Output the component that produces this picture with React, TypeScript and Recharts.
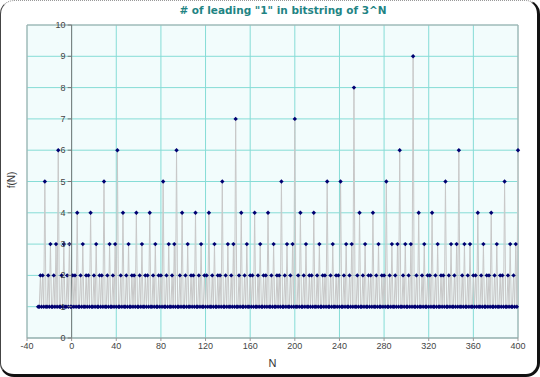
import React from 'react';
import { LineChart, Line, XAxis, YAxis, CartesianGrid, ReferenceLine } from 'recharts';

// f(N) = number of leading "1" bits of 3^N, N = -30 .. 400
const N_START = -30;

const F_NEG = [
  1, 1, 2, 1, 2, 1,
  5, 1, 1, 2, 1, 3, 1, 1, 2, 1, 3, 1,
  6, 1, 1, 2, 1, 3, 1, 1, 2, 1, 3, 1,
];

const F_000_095 = [
  1, 2, 1, 2, 1, 4, 1, 1, 2, 1, 3, 1,
  1, 2, 1, 2, 1, 4, 1, 1, 2, 1, 3, 1,
  1, 2, 1, 2, 1, 5, 1, 1, 2, 1, 3, 1,
  1, 2, 1, 3, 1, 6, 1, 1, 2, 1, 4, 1,
  1, 2, 1, 3, 1, 1, 2, 1, 2, 1, 4, 1,
  1, 2, 1, 3, 1, 1, 2, 1, 2, 1, 4, 1,
  1, 2, 1, 3, 1, 1, 2, 1, 2, 1, 5, 1,
  1, 2, 1, 3, 1, 1, 2, 1, 3, 1, 6, 1,
];

const F_096_191 = [
  1, 2, 1, 4, 1, 1, 2, 1, 3, 1, 1, 2,
  1, 2, 1, 4, 1, 1, 2, 1, 3, 1, 1, 2,
  1, 2, 1, 4, 1, 1, 2, 1, 3, 1, 1, 2,
  1, 2, 1, 5, 1, 1, 2, 1, 3, 1, 1, 2,
  1, 3, 1, 7, 1, 1, 2, 1, 4, 1, 1, 2,
  1, 3, 1, 1, 2, 1, 2, 1, 4, 1, 1, 2,
  1, 3, 1, 1, 2, 1, 2, 1, 4, 1, 1, 2,
  1, 3, 1, 1, 2, 1, 2, 1, 5, 1, 1, 2,
];

const F_192_287 = [
  1, 3, 1, 1, 2, 1, 3, 1, 7, 1, 1, 2,
  1, 4, 1, 1, 2, 1, 3, 1, 1, 2, 1, 2,
  1, 4, 1, 1, 2, 1, 3, 1, 1, 2, 1, 2,
  1, 5, 1, 1, 2, 1, 3, 1, 1, 2, 1, 2,
  1, 5, 1, 1, 2, 1, 3, 1, 1, 2, 1, 3,
  1, 8, 1, 1, 2, 1, 4, 1, 1, 2, 1, 3,
  1, 1, 2, 1, 2, 1, 4, 1, 1, 2, 1, 3,
  1, 1, 2, 1, 2, 1, 5, 1, 1, 2, 1, 3,
];

const F_288_400 = [
  1, 1, 2, 1, 3, 1, 6, 1, 1, 2, 1, 3,
  1, 1, 2, 1, 3, 1, 9, 1, 1, 2, 1, 4,
  1, 1, 2, 1, 3, 1, 1, 2, 1, 2, 1, 4,
  1, 1, 2, 1, 3, 1, 1, 2, 1, 2, 1, 5,
  1, 1, 2, 1, 3, 1, 1, 2, 1, 3, 1, 6,
  1, 1, 2, 1, 3, 1, 1, 2, 1, 3, 1, 1,
  2, 1, 2, 1, 4, 1, 1, 2, 1, 3, 1, 1,
  2, 1, 2, 1, 4, 1, 1, 2, 1, 3, 1, 1,
  2, 1, 2, 1, 5, 1, 1, 2, 1, 3, 1, 1,
  2, 1, 3, 1, 6,
];

const X_TICKS = [-40, 0, 40, 80, 120, 160, 200, 240, 280, 320, 360, 400];
const Y_TICKS = [0, 1, 2, 3, 4, 5, 6, 7, 8, 9, 10];

const TITLE = '# of leading "1" in bitstring of 3^N';

const data = [...F_NEG, ...F_000_095, ...F_096_191, ...F_192_287, ...F_288_400].map((f, i) => ({
  n: N_START + i,
  f,
}));

const W = 540;
const H = 377;
const Y_AXIS_W = 10;
const M = { top: 25, right: 22, bottom: 9, left: 27 - Y_AXIS_W };
const PLOT_W = W - 27 - M.right;
// y axis crosses at N = 0
const X0 = 27 + (PLOT_W * 40) / 440;

const renderYTick = (props: any) => {
  const { y, payload, index } = props;
  return (
    <g key={`yt-${index}`}>
      <line x1={X0 - 4} x2={X0} y1={y} y2={y} stroke="#777" />
      <text x={X0 - 6} y={y} dy={3} textAnchor="end" fontSize={9} fill="#444" fontFamily="Liberation Sans, Arial">
        {payload.value}
      </text>
    </g>
  );
};

const Diamond = (props: any) => {
  const { cx, cy, index } = props;
  if (cx == null || cy == null) return <g key={index} />;
  const r = 2.2;
  return (
    <path
      key={index}
      d={`M${cx},${cy - r}L${cx + r},${cy}L${cx},${cy + r}L${cx - r},${cy}Z`}
      fill="#000072"
    />
  );
};

export default function App() {
  return (
    <div style={{ position: 'absolute', left: 0, top: 0, width: W, height: H, background: '#fff' }}>
      <LineChart width={W} height={H} data={data} margin={M}>
        <CartesianGrid stroke="#86dcd6" fill="#f2fcfc" fillOpacity={1} />
        <XAxis
          dataKey="n"
          type="number"
          domain={[-40, 400]}
          ticks={X_TICKS}
          height={30}
          interval={0}
          axisLine={{ stroke: '#999' }}
          tickLine={{ stroke: '#999' }}
          tickSize={3}
          tick={{ fontSize: 9, fill: '#444', fontFamily: 'Liberation Sans, Arial' }}
          label={{ value: 'N', position: 'insideBottom', offset: 1, fontSize: 11, fill: '#333', fontFamily: 'Liberation Sans, Arial' }}
        />
        <YAxis
          type="number"
          domain={[0, 10]}
          ticks={Y_TICKS}
          width={Y_AXIS_W}
          interval={0}
          axisLine={false}
          tickLine={false}
          tick={renderYTick}
        />
        <ReferenceLine x={-40} stroke="#aaa" />
        <ReferenceLine x={400} stroke="#aaa" />
        <ReferenceLine y={10} stroke="#aaa" />
        <ReferenceLine x={0} stroke="#777" />
        <Line
          dataKey="f"
          type="linear"
          stroke="#c8c8c8"
          strokeWidth={1}
          dot={Diamond}
          activeDot={false}
          isAnimationActive={false}
        />
      </LineChart>
      <div
        style={{
          position: 'absolute',
          left: 0,
          width: 566,
          top: 4,
          textAlign: 'center',
          fontFamily: 'DejaVu Sans, sans-serif',
          fontWeight: 'bold',
          fontSize: 10.5,
          color: '#1f8484',
          whiteSpace: 'pre',
        }}
      >
        {TITLE}
      </div>
      <div
        style={{
          position: 'absolute',
          left: 11,
          top: 180,
          transform: 'translate(-50%, -50%) rotate(-90deg)',
          fontFamily: 'Liberation Sans, Arial',
          fontSize: 10,
          color: '#333',
          whiteSpace: 'pre',
        }}
      >
        f(N)
      </div>
      <div
        style={{
          position: 'absolute',
          left: 0,
          top: 0,
          width: W,
          height: H,
          boxSizing: 'border-box',
          borderLeft: '1px solid #444',
          borderTop: '1px dotted #999',
          borderRight: '3px solid #111',
          borderBottom: '3px solid #111',
          borderRadius: 14,
          pointerEvents: 'none',
        }}
      />
    </div>
  );
}
